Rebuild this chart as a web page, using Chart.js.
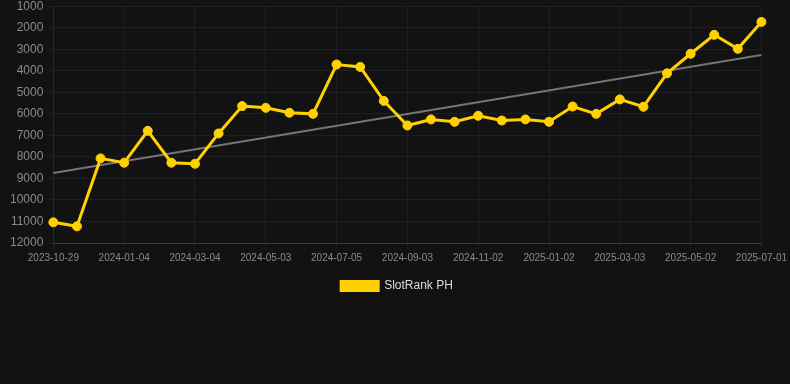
<!DOCTYPE html>
<html>
<head>
<meta charset="utf-8">
<script src="https://cdn.jsdelivr.net/npm/chart.js@4/dist/chart.umd.min.js"></script>
<style>
  html, body { margin: 0; padding: 0; background: #121212; overflow: hidden; }
  #wrap { width: 790px; height: 307px; position: absolute; left: 0; top: -5px; }
</style>
</head>
<body>
<div id="wrap"><canvas id="c"></canvas></div>
<script>
const dates = [
  '2023-10-29','2023-11-20','2023-12-12','2024-01-04','2024-01-24','2024-02-13',
  '2024-03-04','2024-03-24','2024-04-13','2024-05-03','2024-05-24','2024-06-14',
  '2024-07-05','2024-07-25','2024-08-14','2024-09-03','2024-09-23','2024-10-13',
  '2024-11-02','2024-11-22','2024-12-12','2025-01-02','2025-01-22','2025-02-11',
  '2025-03-03','2025-03-23','2025-04-12','2025-05-02','2025-05-22','2025-06-11',
  '2025-07-01'
];
const rankPH = [
  11040, 11225, 8070, 8270, 6790, 8270, 8320, 6910, 5640, 5720, 5950, 6000,
  3710, 3820, 5400, 6540, 6260, 6370, 6090, 6310, 6260, 6370, 5660, 6000,
  5330, 5670, 4120, 3210, 2330, 2980, 1730
];
const trendStart = 8750;
const trendEnd = 3270;
const trend = dates.map((d, i) => i === 0 ? trendStart : (i === dates.length - 1 ? trendEnd : null));
const yTicks = [1000, 12000, 1000]; // min, max, step

new Chart(document.getElementById('c'), {
  type: 'line',
  data: {
    labels: dates,
    datasets: [
      {
        label: 'SlotRank PH',
        data: rankPH,
        borderColor: '#ffd100',
        backgroundColor: '#ffd100',
        borderWidth: 3,
        pointRadius: 4.5,
        pointBorderWidth: 1,
        pointHoverRadius: 4.5,
        pointBackgroundColor: '#ffd100',
        pointBorderColor: '#ffd100',
        tension: 0
      },
      {
        label: 'trend',
        data: trend,
        spanGaps: true,
        borderColor: '#757575',
        backgroundColor: '#757575',
        borderWidth: 2,
        pointRadius: 0,
        tension: 0
      }
    ]
  },
  options: {
    responsive: true,
    maintainAspectRatio: false,
    animation: false,
    layout: { padding: { left: 6, right: 2, top: 0, bottom: 0 } },
    plugins: {
      tooltip: { enabled: false },
      legend: {
        position: 'bottom',
        labels: {
          color: '#dddddd',
          font: { family: 'Arial, "Liberation Sans", sans-serif', size: 12 },
          boxWidth: 37,
          boxHeight: 9,
          padding: 13,
          filter: (item) => item.datasetIndex === 0
        }
      }
    },
    scales: {
      x: {
        offset: false,
        grid: {
          color: (ctx) => (ctx.index % 3 === 0 ? 'rgba(255,255,255,0.05)' : 'transparent'),
          tickLength: 6
        },
        border: { color: 'rgba(255,255,255,0.12)' },
        ticks: {
          autoSkip: false,
          maxRotation: 0,
          color: '#8a8a8a',
          font: { family: 'Arial, "Liberation Sans", sans-serif', size: 10 },
          callback: function (v, i) { return i % 3 === 0 ? dates[i] : ''; }
        }
      },
      y: {
        reverse: true,
        min: yTicks[0],
        max: yTicks[1],
        grid: { color: 'rgba(255,255,255,0.05)', tickLength: 6 },
        border: { color: 'rgba(255,255,255,0.05)' },
        ticks: {
          stepSize: yTicks[2],
          color: '#8a8a8a',
          padding: 4,
          font: { family: 'Arial, "Liberation Sans", sans-serif', size: 12 },
          callback: (v) => String(v)
        }
      }
    }
  }
});
</script>
</body>
</html>
